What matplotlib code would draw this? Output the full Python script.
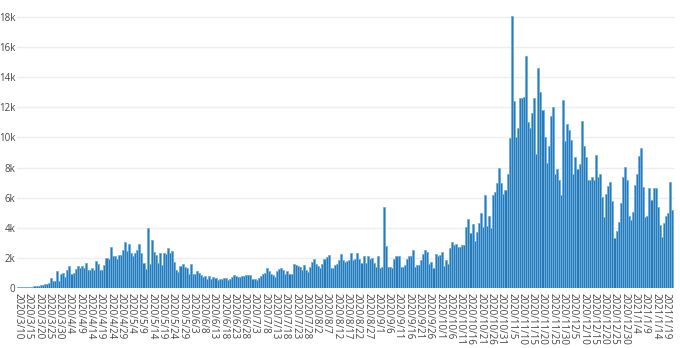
import matplotlib
matplotlib.use("Agg")
import matplotlib.pyplot as plt
import numpy as np
import pandas as pd

# daily new cases, starting 2020/3/10
start_date = "2020-03-10"

mar_apr = [40, 50, 50, 60, 60, 70, 70, 80, 110, 120, 130, 200, 210, 250, 290, 300, 650, 450, 440, 1100,
           470, 950, 1000, 700, 1170, 1450, 900, 1000, 1250, 1470, 1330, 1450, 1330, 1670, 1180, 1220, 1350, 1180, 1800, 1620,
           1200, 1180, 1550, 2000, 1900, 2730, 2100, 2100, 1950, 2200, 2220, 2500]
may_jun = [3070, 2470, 2950, 2300, 2100, 2300, 2550, 2900, 2300, 1670, 1250, 4000,
           1620, 3200, 2400, 2200, 1670, 2300, 1500, 2350, 2250, 2670, 2300, 2470, 1700, 1180, 1070, 1470, 1580, 1400, 1300, 950, 1620,
           950, 900, 1130, 1000, 850, 700, 780, 620, 780, 620, 700, 680, 500, 620, 600, 670, 670, 500, 600, 700, 850, 820, 700, 730, 780, 820, 850]
jul_aug = [850, 850, 620, 600, 550, 650, 800, 950, 1000, 1300, 1150, 950, 850, 700, 1150,
           1250, 1350, 1200, 950, 1100, 900, 950, 1580, 1550, 1450, 1400, 1200, 1500, 1200, 1050,
           1400, 1730, 1950, 1600, 1450, 1300, 1600, 1900, 2070, 2180, 1350, 1300, 1500, 1600, 1850,
           2250, 1850, 1730, 1800, 1850, 2300, 1850, 1900, 2350, 1900, 1650, 2100, 1650, 2100, 1900,
           2000, 1650, 1400, 2100, 1350, 1400, 5350]
sep_oct = [2800, 1400, 1380, 1350, 1950, 2130, 2100, 1400,
           1400, 1500, 1900, 2100, 2100, 2550, 1400, 1500, 1550, 1850, 2250, 2500, 2400, 1600, 1700,
           1350, 2250, 2150, 2200, 2400, 1450, 1850, 1600, 2650, 3050, 2850, 2950, 2750, 2750, 2850,
           2850, 4050, 4600, 3650, 4250, 3150, 3750, 4350, 4950, 4050, 6200, 4100, 4750, 4000, 6150,
           6400, 7000, 7950]
nov_jan = [6950, 6250, 6500, 7550, 9950, 18050, 12400, 10000, 10600, 12600,
           12650, 12700, 15400, 11000, 10600, 11600, 12600, 8900, 14600, 13000,
           11850, 10000, 8300, 9450, 11400, 12000, 7550, 7900, 7150, 6200,
           12500, 9750, 10900, 10500, 9850, 7550, 8700, 7900, 8250, 11100,
           9400, 8700, 7200, 7200, 7350, 7200, 8850, 7400, 7600, 6050,
           4700, 6250, 6800, 7050, 5750, 3300, 3800, 4400, 5650, 7400,
           8050, 7200, 4800, 4500, 5050, 6850, 7600, 8750, 9300, 6700,
           4700, 4800, 6650, 5850, 6650, 6650, 5400, 4200, 3400, 4300,
           4800, 5000, 7050, 5200]

cases = mar_apr + may_jun + jul_aug + sep_oct + nov_jan
dates = pd.date_range(start_date, periods=len(cases))

y_ticks = [0, 2000, 4000, 6000, 8000, 10000, 12000, 14000, 16000, 18000]
y_labels = ["0", "2k", "4k", "6k", "8k", "10k", "12k", "14k", "16k", "18k"]

x = np.arange(len(cases))
tick_idx = x[::5]
tick_labels = [f"{d.year}/{d.month}/{d.day}" for d in dates[tick_idx]]

plt.rcParams['font.family'] = ['Open Sans', 'DejaVu Sans']

fig = plt.figure(figsize=(6.8, 3.48), dpi=100)
ax = fig.add_axes([0.0247, 0.1724, 0.9676, 0.7917])
# light edge gives the striped look of the original
ax.bar(x, cases, width=1.0, color='#2a78b5', edgecolor='#6ab2e2', linewidth=0.6, zorder=2)

ax.set_xlim(-0.6, 319.3)
ax.set_ylim(0, 18300)
ax.set_yticks(y_ticks)
ax.set_yticklabels(y_labels, fontsize=7, color='#444444')
ax.set_xticks(tick_idx)
ax.set_xticklabels(tick_labels, fontsize=7, color='#444444', rotation=270, ha='center', va='top')
ax.tick_params(axis='y', length=0, pad=1)
ax.tick_params(axis='x', length=0, pad=3.5)
ax.grid(axis='y', color='#eeeeee', linewidth=1, zorder=0)
ax.set_axisbelow(True)
for s in ax.spines.values():
    s.set_visible(False)

fig.savefig("out.png", dpi=100)
